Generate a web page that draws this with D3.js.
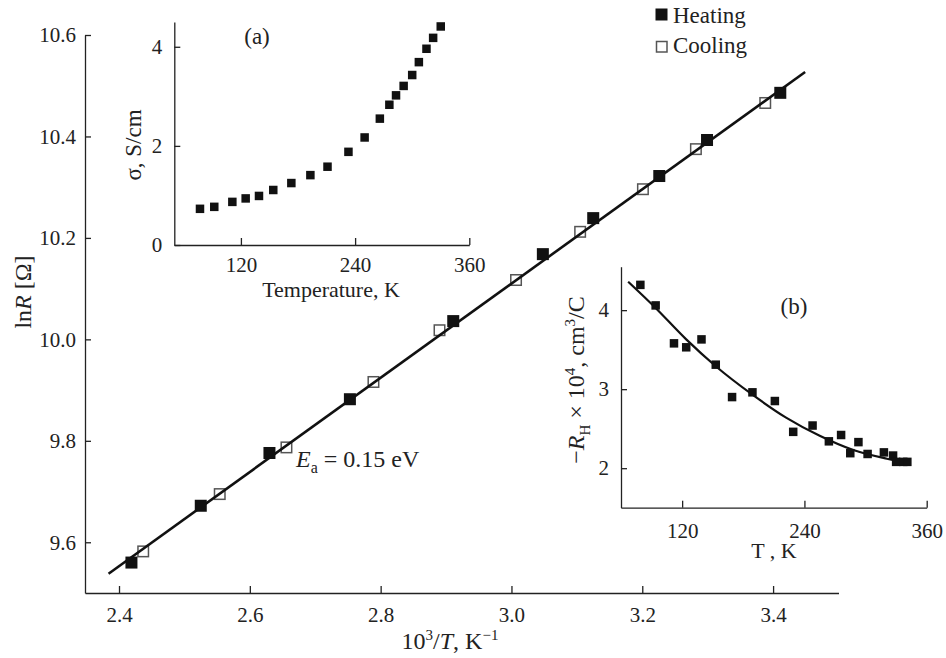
<!DOCTYPE html>
<html>
<head>
<meta charset="utf-8">
<script src="https://cdn.jsdelivr.net/npm/d3@7"></script>
<style>
  body { margin: 0; background: #fff; }
  svg text { font-family: "Liberation Serif", "DejaVu Serif", "Noto Serif", Times, serif; fill: #222; }
</style>
</head>
<body>
<script>
// main plot: ln R vs 1000/T
var heatX = [2.419, 2.525, 2.630, 2.753, 2.911, 3.048, 3.125, 3.226, 3.299, 3.411];
var heatY = [9.560, 9.672, 9.776, 9.882, 10.036, 10.168, 10.239, 10.322, 10.393, 10.486];
var coolX = [2.437, 2.554, 2.656, 2.789, 2.890, 3.007, 3.105, 3.201, 3.282, 3.388];
var coolY = [9.582, 9.695, 9.787, 9.916, 10.018, 10.117, 10.212, 10.296, 10.375, 10.466];
var fitX = [2.384, 3.449];
var fitY = [9.538, 10.527];
var mainXTicks = [2.4, 2.6, 2.8, 3.0, 3.2, 3.4];
var mainYTicks = [9.6, 9.8, 10.0, 10.2, 10.4, 10.6];

// inset (a): conductivity vs temperature
var sigT = [77, 92, 111, 125, 139, 154, 173, 193, 211, 233, 250, 266, 276, 283, 291, 300, 307, 315, 322, 330];
var sigV = [0.73, 0.77, 0.87, 0.94, 0.99, 1.11, 1.25, 1.41, 1.58, 1.88, 2.17, 2.55, 2.83, 3.02, 3.21, 3.43, 3.69, 3.96, 4.18, 4.41];
var aXTicks = [120, 240, 360];
var aYTicks = [0, 2, 4];

// inset (b): Hall coefficient vs temperature
var hallT = [79, 94, 112, 124, 139, 153, 169, 189, 211, 229, 248, 264, 276, 285, 293, 302, 318, 327, 330, 337, 341];
var hallR = [4.32, 4.06, 3.58, 3.53, 3.63, 3.31, 2.90, 2.96, 2.85, 2.46, 2.54, 2.34, 2.42, 2.19, 2.33, 2.18, 2.20, 2.16, 2.08, 2.08, 2.08];
var hallFitT = [67, 93, 124, 153, 189, 222, 255, 288, 321, 344];
var hallFitR = [4.36, 4.04, 3.63, 3.29, 2.93, 2.64, 2.41, 2.23, 2.12, 2.06];
var bXTicks = [120, 240, 360];
var bYTicks = [2, 3, 4];

var width = 946, height = 658;
var fs = 21;      // tick labels
var ts = 24;      // titles
var serif = '"Liberation Serif", "DejaVu Serif", "Noto Serif", Times, serif';

var svg = d3.select("body").append("svg")
  .attr("width", width)
  .attr("height", height);

function styleAxis(g) {
  g.attr("font-family", null).attr("font-size", null);
  g.selectAll("path, line").attr("stroke", "#222").attr("stroke-width", 1.3);
  g.selectAll("text")
    .style("font-family", serif)
    .style("font-size", fs + "px")
    .attr("fill", "#222");
}

// ---------- main plot ----------
var x = d3.scaleLinear().domain([2.348, 3.5]).range([85, 838.5]);
var y = d3.scaleLinear().domain([9.5, 10.6]).range([593, 35]);

svg.append("g")
  .attr("transform", "translate(0,593)")
  .call(d3.axisBottom(x).tickValues(mainXTicks).tickFormat(d3.format(".1f"))
    .tickSizeInner(-7).tickSizeOuter(0).tickPadding(14))
  .call(styleAxis);

svg.append("g")
  .attr("transform", "translate(85,0)")
  .call(d3.axisLeft(y).tickValues(mainYTicks).tickFormat(d3.format(".1f"))
    .tickSizeInner(-6).tickSizeOuter(0).tickPadding(9))
  .call(styleAxis);

var mainCool = d3.range(coolX.length).map(i => [coolX[i], coolY[i]]);
var mainHeat = d3.range(heatX.length).map(i => [heatX[i], heatY[i]]);
var mainFit = d3.range(fitX.length).map(i => [fitX[i], fitY[i]]);

var ms = 12;
svg.selectAll(".cool").data(mainCool).enter().append("rect")
  .attr("class", "cool")
  .attr("x", d => x(d[0]) - ms / 2 + 0.75)
  .attr("y", d => y(d[1]) - ms / 2 + 0.75)
  .attr("width", ms - 1.5).attr("height", ms - 1.5)
  .attr("fill", "none").attr("stroke", "#555").attr("stroke-width", 1.5);

svg.append("path")
  .datum(mainFit)
  .attr("d", d3.line().x(d => x(d[0])).y(d => y(d[1])))
  .attr("fill", "none").attr("stroke", "#111").attr("stroke-width", 2.6);

svg.selectAll(".heat").data(mainHeat).enter().append("rect")
  .attr("class", "heat")
  .attr("x", d => x(d[0]) - ms / 2)
  .attr("y", d => y(d[1]) - ms / 2)
  .attr("width", ms).attr("height", ms)
  .attr("fill", "#111");

// axis titles
var yl = svg.append("text")
  .attr("transform", "translate(31,292) rotate(-90)")
  .attr("text-anchor", "middle")
  .style("font-size", ts + "px");
yl.append("tspan").text("ln");
yl.append("tspan").style("font-style", "italic").text("R");
yl.append("tspan").text(" [Ω]");

var xl = svg.append("text")
  .attr("x", 450).attr("y", 649)
  .attr("text-anchor", "middle")
  .style("font-size", ts + "px");
xl.append("tspan").text("10");
xl.append("tspan").attr("dy", -9).style("font-size", "15px").text("3");
xl.append("tspan").attr("dy", 9).text("/");
xl.append("tspan").style("font-style", "italic").text("T");
xl.append("tspan").text(", K");
xl.append("tspan").attr("dy", -9).style("font-size", "15px").text("−1");

// activation energy note
var ea = svg.append("text")
  .attr("x", 296).attr("y", 467)
  .style("font-size", "24px");
ea.append("tspan").style("font-style", "italic").text("E");
ea.append("tspan").attr("dy", 6).style("font-size", "16px").text("a");
ea.append("tspan").attr("dy", -6).text(" = 0.15 eV");

// legend
var legendItems = ["Heating", "Cooling"];
var lg = svg.append("g");
lg.append("rect").attr("x", 655.5).attr("y", 8.5).attr("width", 12).attr("height", 12).attr("fill", "#111");
lg.append("rect").attr("x", 656.5).attr("y", 41.5).attr("width", 10.5).attr("height", 10.5)
  .attr("fill", "none").attr("stroke", "#555").attr("stroke-width", 1.5);
lg.selectAll("text").data(legendItems).enter().append("text")
  .attr("x", 673).attr("y", (d, i) => 23 + i * 30)
  .style("font-size", "23px")
  .text(d => d);

// ---------- inset (a) ----------
var xa = d3.scaleLinear().domain([50, 360]).range([174.3, 469.3]);
var ya = d3.scaleLinear().domain([0, 4.5]).range([245, 22]);

svg.append("g")
  .attr("transform", "translate(0,245)")
  .call(d3.axisBottom(xa).tickValues(aXTicks).tickFormat(d3.format("d"))
    .tickSizeInner(-7).tickSizeOuter(0).tickPadding(12))
  .call(styleAxis);
svg.append("g")
  .attr("transform", "translate(174.3,0)")
  .call(d3.axisLeft(ya).tickValues(aYTicks).tickFormat(d3.format("d"))
    .tickSizeInner(-6).tickSizeOuter(0).tickPadding(12))
  .call(styleAxis);

var aPts = d3.range(sigT.length).map(i => [sigT[i], sigV[i]]);
var as = 8.5;
svg.selectAll(".ap").data(aPts).enter().append("rect")
  .attr("class", "ap")
  .attr("x", d => xa(d[0]) - as / 2)
  .attr("y", d => ya(d[1]) - as / 2)
  .attr("width", as).attr("height", as)
  .attr("fill", "#111");

svg.append("text").attr("x", 257).attr("y", 44).attr("text-anchor", "middle")
  .style("font-size", "23px").text("(a)");
svg.append("text").attr("x", 331).attr("y", 297).attr("text-anchor", "middle")
  .style("font-size", "22px").text("Temperature, K");
svg.append("text")
  .attr("transform", "translate(141,145) rotate(-90)")
  .attr("text-anchor", "middle")
  .style("font-size", "23px").text("σ, S/cm");

// ---------- inset (b) ----------
var xb = d3.scaleLinear().domain([60, 360]).range([621, 926.7]);
var yb = d3.scaleLinear().domain([1.5, 4.55]).range([507.7, 266.7]);

svg.append("g")
  .attr("transform", "translate(0,507.7)")
  .call(d3.axisBottom(xb).tickValues(bXTicks).tickFormat(d3.format("d"))
    .tickSizeInner(-7).tickSizeOuter(0).tickPadding(15))
  .call(styleAxis);
svg.append("g")
  .attr("transform", "translate(621,0)")
  .call(d3.axisLeft(yb).tickValues(bYTicks).tickFormat(d3.format("d"))
    .tickSizeInner(-6).tickSizeOuter(0).tickPadding(12))
  .call(styleAxis);

var bFit = d3.range(hallFitT.length).map(i => [hallFitT[i], hallFitR[i]]);
svg.append("path")
  .datum(bFit)
  .attr("d", d3.line().curve(d3.curveMonotoneX).x(d => xb(d[0])).y(d => yb(d[1])))
  .attr("fill", "none").attr("stroke", "#111").attr("stroke-width", 2.2);

var bPts = d3.range(hallT.length).map(i => [hallT[i], hallR[i]]);
var bs = 8.5;
svg.selectAll(".bp").data(bPts).enter().append("rect")
  .attr("class", "bp")
  .attr("x", d => xb(d[0]) - bs / 2)
  .attr("y", d => yb(d[1]) - bs / 2)
  .attr("width", bs).attr("height", bs)
  .attr("fill", "#111");

svg.append("text").attr("x", 794).attr("y", 314).attr("text-anchor", "middle")
  .style("font-size", "23px").text("(b)");
svg.append("text").attr("x", 774).attr("y", 558).attr("text-anchor", "middle")
  .style("font-size", "22px").text("T , K");

var byl = svg.append("text")
  .attr("transform", "translate(584,380) rotate(-90)")
  .attr("text-anchor", "middle")
  .style("font-size", ts + "px");
byl.append("tspan").text("−");
byl.append("tspan").style("font-style", "italic").text("R");
byl.append("tspan").attr("dy", 6).style("font-size", "15px").text("H");
byl.append("tspan").attr("dy", -6).text(" × 10");
byl.append("tspan").attr("dy", -9).style("font-size", "15px").text("4");
byl.append("tspan").attr("dy", 9).text(", cm");
byl.append("tspan").attr("dy", -9).style("font-size", "15px").text("3");
byl.append("tspan").attr("dy", 9).text("/C");
</script>
</body>
</html>
